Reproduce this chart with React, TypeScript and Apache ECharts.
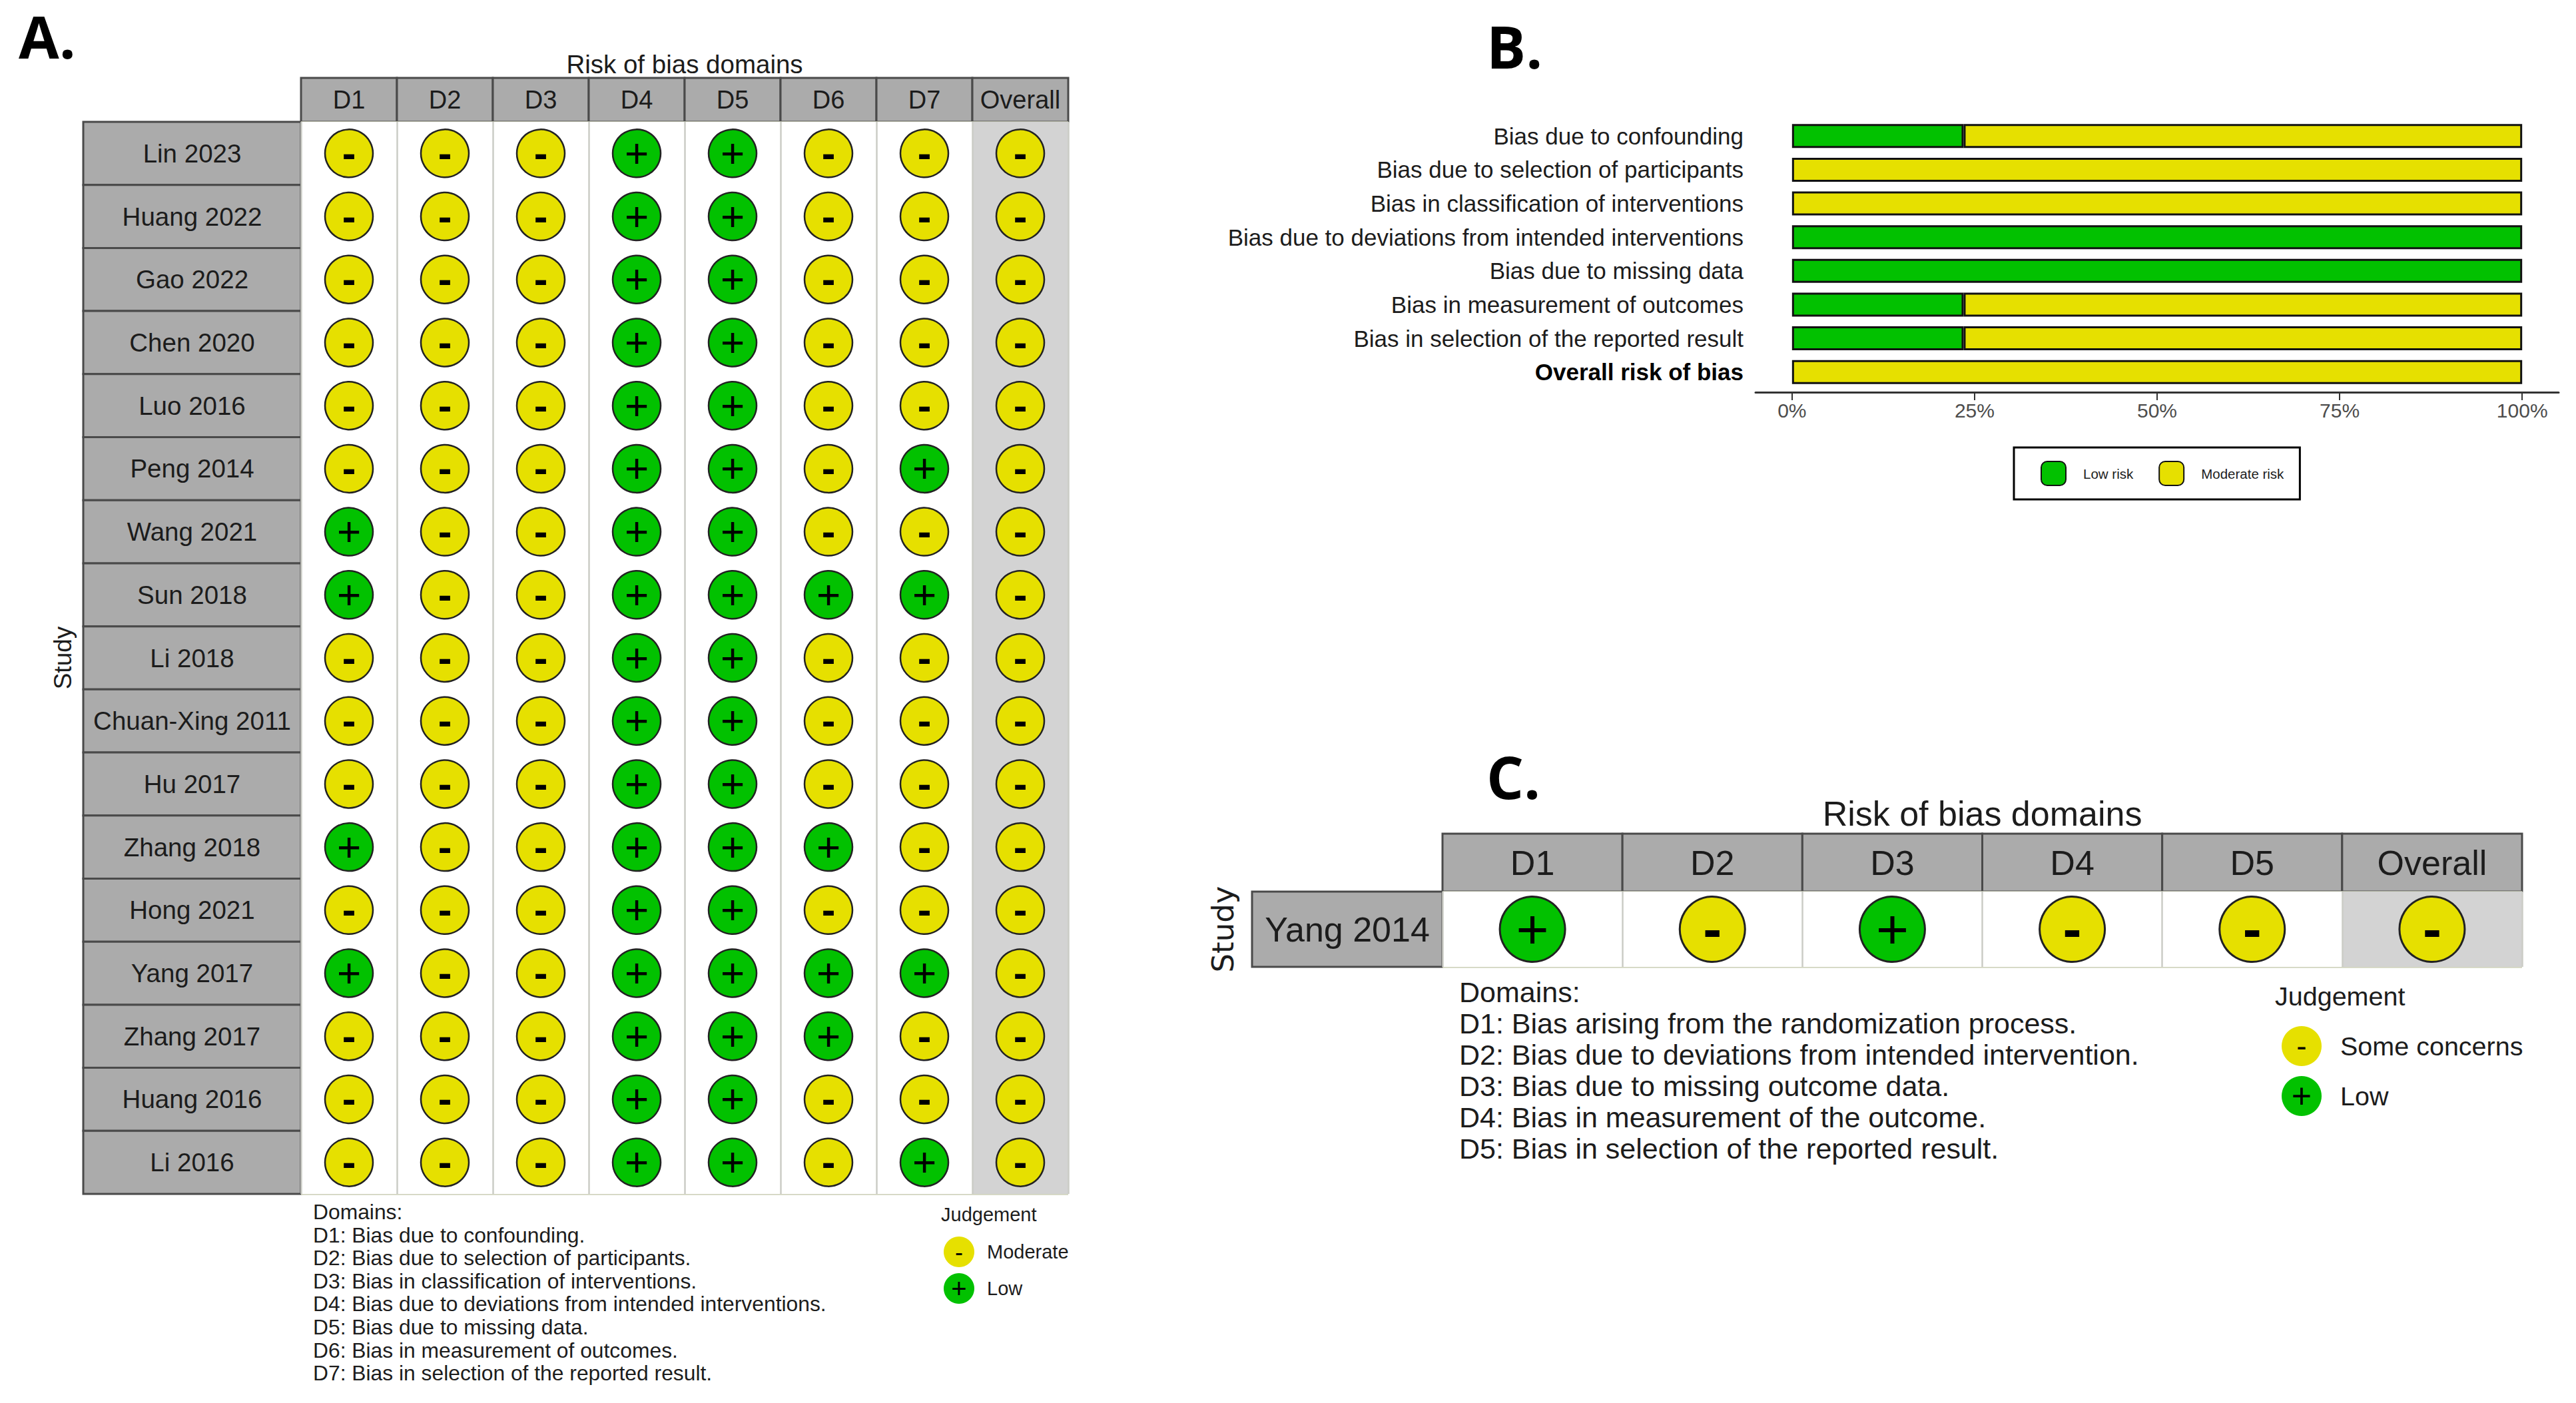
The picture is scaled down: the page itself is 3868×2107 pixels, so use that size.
import React, { useEffect, useRef } from "react";
import * as echarts from "echarts";

const domainsA = ["D1", "D2", "D3", "D4", "D5", "D6", "D7", "Overall"];
const studiesA = ["Lin 2023", "Huang 2022", "Gao 2022", "Chen 2020", "Luo 2016", "Peng 2014", "Wang 2021", "Sun 2018", "Li 2018", "Chuan-Xing 2011", "Hu 2017", "Zhang 2018", "Hong 2021", "Yang 2017", "Zhang 2017", "Huang 2016", "Li 2016"];
// one string per study, one letter per domain: L = low, M = moderate
const judgementsA = [
  "MMMLLMMM", "MMMLLMMM", "MMMLLMMM", "MMMLLMMM", "MMMLLMMM", "MMMLLMLM",
  "LMMLLMMM", "LMMLLLLM", "MMMLLMMM", "MMMLLMMM", "MMMLLMMM", "LMMLLLMM",
  "MMMLLMMM", "LMMLLLLM", "MMMLLLMM", "MMMLLMMM", "MMMLLMLM",
];
const domainTextA = ["Domains:", "D1: Bias due to confounding.", "D2: Bias due to selection of participants.", "D3: Bias in classification of interventions.", "D4: Bias due to deviations from intended interventions.", "D5: Bias due to missing data.", "D6: Bias in measurement of outcomes.", "D7: Bias in selection of the reported result."];

const categoriesB = ["Bias due to confounding", "Bias due to selection of participants", "Bias in classification of interventions", "Bias due to deviations from intended interventions", "Bias due to missing data", "Bias in measurement of outcomes", "Bias in selection of the reported result", "Overall risk of bias"];
const lowRiskB = [23.5, null, null, 100, 100, 23.5, 23.5, null];
const moderateRiskB = [76.5, 100, 100, null, null, 76.5, 76.5, 100];
const ticksB = [0, 25, 50, 75, 100];

const domainsC = ["D1", "D2", "D3", "D4", "D5", "Overall"];
const studiesC = ["Yang 2014"];
const judgementsC = ["LMLMMM"];
const domainTextC = ["Domains:", "D1: Bias arising from the randomization process.", "D2: Bias due to deviations from intended intervention.", "D3: Bias due to missing outcome data.", "D4: Bias in measurement of the outcome.", "D5: Bias in selection of the reported result."];

const GREEN = "#02C100";
const YELLOW = "#E6E000";
const STRIP = "#ababab";
const STRIP_LINE = "#4a4a4a";
const GRID_V = "#cbccc6";
const GRID_H = "#d2d4bf";
const TEXT = "#1c1c1c";
const FONT = "'Liberation Sans', Arial, sans-serif";

const text = (x: number, y: number, s: string, size: number, extra: any = {}) => ({
  type: "text", x, y, z: 10,
  style: { text: s, fontSize: size, fontFamily: FONT, fill: TEXT, textVerticalAlign: "middle", verticalAlign: "middle", ...extra },
});

function stripRects(left: number, top: number, width: number, height: number, horizontal: boolean, n: number) {
  const out: any[] = [];
  for (let i = 0; i < n; i++) {
    out.push({
      type: "rect", z: -1,
      shape: horizontal
        ? { x: left + (width / n) * i, y: top, width: width / n, height }
        : { x: left, y: top + (height / n) * i, width, height: height / n },
      style: { fill: STRIP, stroke: STRIP_LINE, lineWidth: 3 },
    });
  }
  return out;
}

function marks(rows: string[], code: string) {
  const out: number[][] = [];
  rows.forEach((r, y) => r.split("").forEach((c, x) => { if (c === code) out.push([x, y]); }));
  return out;
}

function trafficPanel(index: number, layout: any, domains: string[], studies: string[], rows: string[]) {
  const { left, top, width, height, stripLeft, headerTop, headerFont, rowFont, titleFont, titleGap, studyFont, studyGap, studyFamily, symbol, mark, markDy, lineW, gridW } = layout;
  const xAxis = {
    type: "category", gridIndex: index, data: domains, position: "top",
    name: "Risk of bias domains", nameLocation: "middle", nameGap: titleGap,
    nameTextStyle: { fontSize: titleFont, fontFamily: FONT, color: TEXT, verticalAlign: "middle" },
    axisLine: { show: false }, axisTick: { show: false, interval: 0 },
    axisLabel: { interval: 0, fontSize: headerFont, fontFamily: FONT, color: TEXT, margin: (top - headerTop) / 2, verticalAlign: "middle" },
    splitLine: { show: true, interval: 0, showMinLine: true, showMaxLine: true, lineStyle: { color: GRID_V, width: gridW } },
    splitArea: { show: true, interval: 0, areaStyle: { color: domains.map((d) => (d === "Overall" ? "#d3d3d3" : "#ffffff")) } },
    z: 5,
  };
  const yAxis = {
    type: "category", gridIndex: index, data: studies, inverse: true,
    name: "Study", nameLocation: "middle", nameRotate: 90, nameGap: studyGap,
    nameTextStyle: { fontSize: studyFont, fontFamily: studyFamily, color: TEXT, verticalAlign: "middle" },
    axisLine: { show: false }, axisTick: { show: false, interval: 0 },
    axisLabel: { interval: 0, fontSize: rowFont, fontFamily: FONT, color: TEXT, align: "center", margin: (left - stripLeft) / 2 },
    splitLine: { show: true, interval: 0, showMinLine: true, showMaxLine: true, lineStyle: { color: GRID_H, width: gridW } },
    z: 5,
  };
  const series = [
    { code: "L", name: "Low", color: GREEN, sign: "+" },
    { code: "M", name: "Moderate", color: YELLOW, sign: "-" },
  ].map((s) => ({
    type: "scatter", name: s.name, xAxisIndex: index, yAxisIndex: index,
    data: marks(rows, s.code),
    symbol: "circle", symbolSize: symbol, z: 6,
    itemStyle: { color: s.color, borderColor: "#222222", borderWidth: lineW, opacity: 1 },
    label: { show: true, position: "inside", formatter: s.sign, fontSize: mark, fontFamily: FONT, color: "#000000", offset: [0, markDy], fontWeight: s.sign === "-" ? "bold" : "normal" },
  }));
  return { grid: { left, top, width, height, show: false }, xAxis, yAxis, series };
}

function legendMark(cx: number, cy: number, r: number, color: string, sign: string, size: number) {
  return [
    { type: "circle", z: 10, shape: { cx, cy, r }, style: { fill: color } },
    { type: "text", z: 11, x: cx, y: cy, style: { text: sign, fontSize: size, fontFamily: FONT, fill: "#000", align: "center", verticalAlign: "middle", textAlign: "center", textVerticalAlign: "middle" } },
  ];
}

const layoutA = { left: 452, top: 183, width: 1152, height: 1610, stripLeft: 125, headerTop: 117, headerFont: 38, rowFont: 38.5, titleFont: 38.5, titleGap: 87, studyFont: 37, studyGap: 358, studyFamily: FONT, symbol: 72, mark: 62, markDy: -1, lineW: 2.5, gridW: 2.5 };
const layoutC = { left: 2166, top: 1339, width: 1621, height: 113, stripLeft: 1880, headerTop: 1252, headerFont: 52, rowFont: 52, titleFont: 52, titleGap: 117, studyFont: 45, studyGap: 330, studyFamily: "'DejaVu Sans', sans-serif", symbol: 98, mark: 84, markDy: -1, lineW: 3, gridW: 2.5 };

export default function App() {
  const ref = useRef<HTMLDivElement>(null);
  useEffect(() => {
    if (!ref.current) return;
    const chart = echarts.init(ref.current, undefined, { renderer: "svg", width: 3868, height: 2107 });
    const a = trafficPanel(0, layoutA, domainsA, studiesA, judgementsA);
    const c = trafficPanel(1, layoutC, domainsC, studiesC, judgementsC);

    const barGrid = { left: 2636, top: 179, width: 1206, height: 405, show: false };
    const barX = {
      type: "value", gridIndex: 2, min: -5, max: 105, offset: 5,
      axisLine: { show: true, onZero: false, lineStyle: { color: "#333333", width: 3 } },
      axisTick: { show: true, length: 12, customValues: ticksB, lineStyle: { color: "#333333", width: 2 } },
      axisLabel: { customValues: ticksB, formatter: (v: number) => `${v}%`, fontSize: 30, fontFamily: FONT, color: "#4d4d4d", margin: 12 },
      splitLine: { show: false },
    };
    const barY = {
      type: "category", gridIndex: 2, data: categoriesB, inverse: true,
      axisLine: { show: false, onZero: false }, axisTick: { show: false },
      axisLabel: {
        interval: 0, fontSize: 35, fontFamily: FONT, color: TEXT, margin: 18,
        formatter: (v: string) => (v === "Overall risk of bias" ? `{b|${v}}` : v),
        rich: { b: { fontWeight: "bold", fontSize: 35, fontFamily: FONT, color: "#000" } },
      },
    };
    const barBase = { type: "bar", xAxisIndex: 2, yAxisIndex: 2, stack: "risk", barWidth: 36 };
    const barBorder = { borderColor: "#111111", borderWidth: 3 };
    const letter = { fontWeight: "bold", fill: "#000", fontFamily: "'Open Sans', sans-serif" };

    const graphics: any[] = [
      text(28, 54, "A.", 88, letter),
      text(2232, 69, "B.", 88, letter),
      text(2232, 1166, "C.", 88, letter),
      ...stripRects(452, 117, 1152, 66, true, 8),
      ...stripRects(125, 183, 327, 1610, false, 17),
      ...stripRects(2166, 1252, 1621, 87, true, 6),
      ...stripRects(1880, 1339, 286, 113, false, 1),
      ...domainTextA.map((s, i) => text(470, 1820 + i * 34.6, s, 31.8)),
      text(1413, 1824, "Judgement", 29),
      ...legendMark(1440, 1880, 23, YELLOW, "-", 36),
      text(1482, 1880, "Moderate", 29),
      ...legendMark(1440, 1935, 23, GREEN, "+", 40),
      text(1482, 1935, "Low", 29),
      ...domainTextC.map((s, i) => text(2191, 1490 + i * 47, s, 43)),
      text(3416, 1496, "Judgement", 39.5),
      ...legendMark(3456, 1571, 30, YELLOW, "-", 46),
      text(3514, 1571, "Some concerns", 39.5),
      ...legendMark(3456, 1646, 30, GREEN, "+", 52),
      text(3514, 1646, "Low", 39.5),
    ];

    chart.setOption({
      animation: false,
      backgroundColor: "#ffffff",
      grid: [a.grid, c.grid, barGrid],
      xAxis: [a.xAxis, c.xAxis, barX],
      yAxis: [a.yAxis, c.yAxis, barY],
      legend: {
        show: true, data: ["Low risk", "Moderate risk"], left: 3024, top: 672, orient: "horizontal",
        padding: [20, 24, 20, 40], itemWidth: 37, itemHeight: 36, itemGap: 38,
        borderColor: "#000000", borderWidth: 3, backgroundColor: "#ffffff",
        textStyle: { fontSize: 20.5, fontFamily: FONT, color: TEXT, padding: [0, 0, 0, 21] },
      },
      series: [
        ...a.series, ...c.series,
        { ...barBase, name: "Low risk", data: lowRiskB, itemStyle: { color: GREEN, ...barBorder } },
        { ...barBase, name: "Moderate risk", data: moderateRiskB, itemStyle: { color: YELLOW, ...barBorder } },
      ],
      graphic: { elements: graphics },
    });
    return () => chart.dispose();
  }, []);
  return <div ref={ref} style={{ position: "absolute", left: 0, top: 0, width: 3868, height: 2107 }} />;
}
